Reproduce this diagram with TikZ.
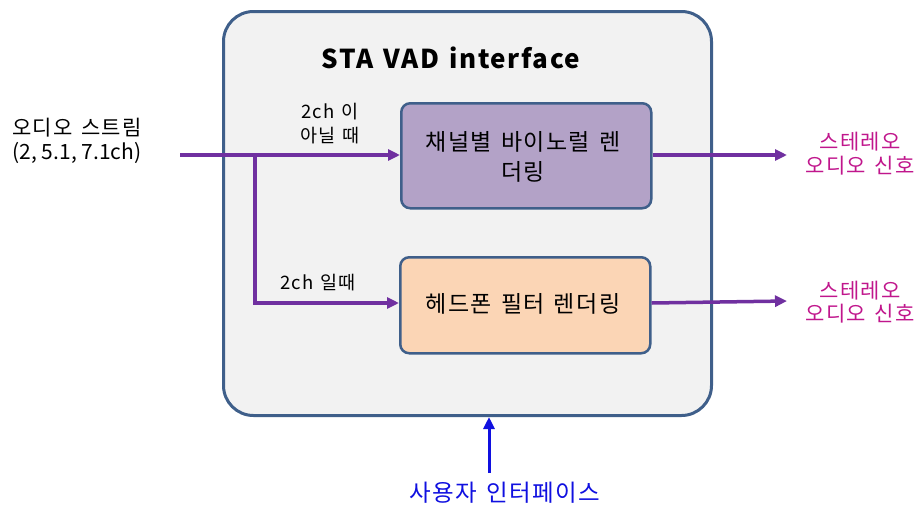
\documentclass[tikz,border=0pt]{standalone}
\usepackage{fontspec}
\setmainfont{Noto Sans CJK KR}[LetterSpace=6, WordSpace=1.4]
\newfontfamily\plainfont{Noto Sans CJK KR}
\usetikzlibrary{arrows.meta}
\definecolor{frame}{HTML}{3F5F8A}
\definecolor{bgbox}{HTML}{F2F2F2}
\definecolor{lav}{HTML}{B3A2C7}
\definecolor{peach}{HTML}{FBD5B5}
\definecolor{flow}{HTML}{7030A0}
\definecolor{outc}{HTML}{C0168C}
\definecolor{uic}{HTML}{1010E0}
\tikzset{
  blockbox/.style={draw=frame, line width=2.5pt, rounded corners=9pt, inner sep=0pt},
  flowline/.style={draw=flow, line width=3.5pt, -{Triangle[length=12pt,width=11pt]}},
  txt/.style={inner sep=0pt, align=center},
}
\begin{document}
\begin{tikzpicture}[x=1pt,y=-1pt]
\useasboundingbox (0,0) rectangle (918,507);
% outer
\node[draw=frame, line width=3pt, fill=bgbox, rounded corners=30pt, minimum width=488pt, minimum height=404pt, anchor=north west] (outer) at (222,10) {};
\node[txt, font=\fontsize{26}{30}\selectfont\bfseries] (title) at (451,58) {STA VAD interface};
% blocks
\node[blockbox, fill=lav, minimum width=250pt, minimum height=105pt, anchor=north west] (b1) at (400,102) {};
\node[txt, font=\fontsize{23}{30}\selectfont] (b1t) at (523,157) {채널별 바이노럴 렌\\더링};
\node[blockbox, fill=peach, minimum width=250pt, minimum height=96pt, anchor=north west] (b2) at (399,256) {};
\node[txt, font=\fontsize{23}{30}\selectfont] (b2t) at (523,304) {헤드폰 필터 렌더링};
% input
\node[txt, font=\fontsize{21}{24}\selectfont] (in) at (77,141) {오디오 스트림\\{\plainfont(2, 5.1, 7.1ch)}};
\coordinate (s) at (180,155);
\coordinate (j) at (255,155);
\draw[flowline] (s) -- (b1.west |- s);
\draw[flowline] (j) |- (b2.west |- 0,303);
\node[txt, font=\fontsize{18.5}{24}\selectfont] (l1) at (330,124) {2ch 이\\아닐 때};
\node[txt, font=\fontsize{18.5}{20}\selectfont] (l2) at (318,283) {2ch 일때};
% outputs
\coordinate (o1) at (787,155);
\coordinate (o2) at (787,301);
\draw[flowline] (b1.east |- o1) -- (o1);
\draw[flowline] (b2.east |- 0,303) -- (o2);
\node[txt, text=outc, font=\fontsize{21}{24}\selectfont] (out1) at (860,154) {스테레오\\오디오 신호};
\node[txt, text=outc, font=\fontsize{21}{23}\selectfont] (out2) at (860,302) {스테레오\\오디오 신호};
% user interface
\node[txt, text=uic, font=\fontsize{23.5}{24}\selectfont] (ui) at (505,493) {사용자 인터페이스};
\draw[draw=uic, line width=3pt, -{Triangle[length=12pt,width=11pt]}] (489,473) -- (outer.south -| 489,0);
\end{tikzpicture}
\end{document}
